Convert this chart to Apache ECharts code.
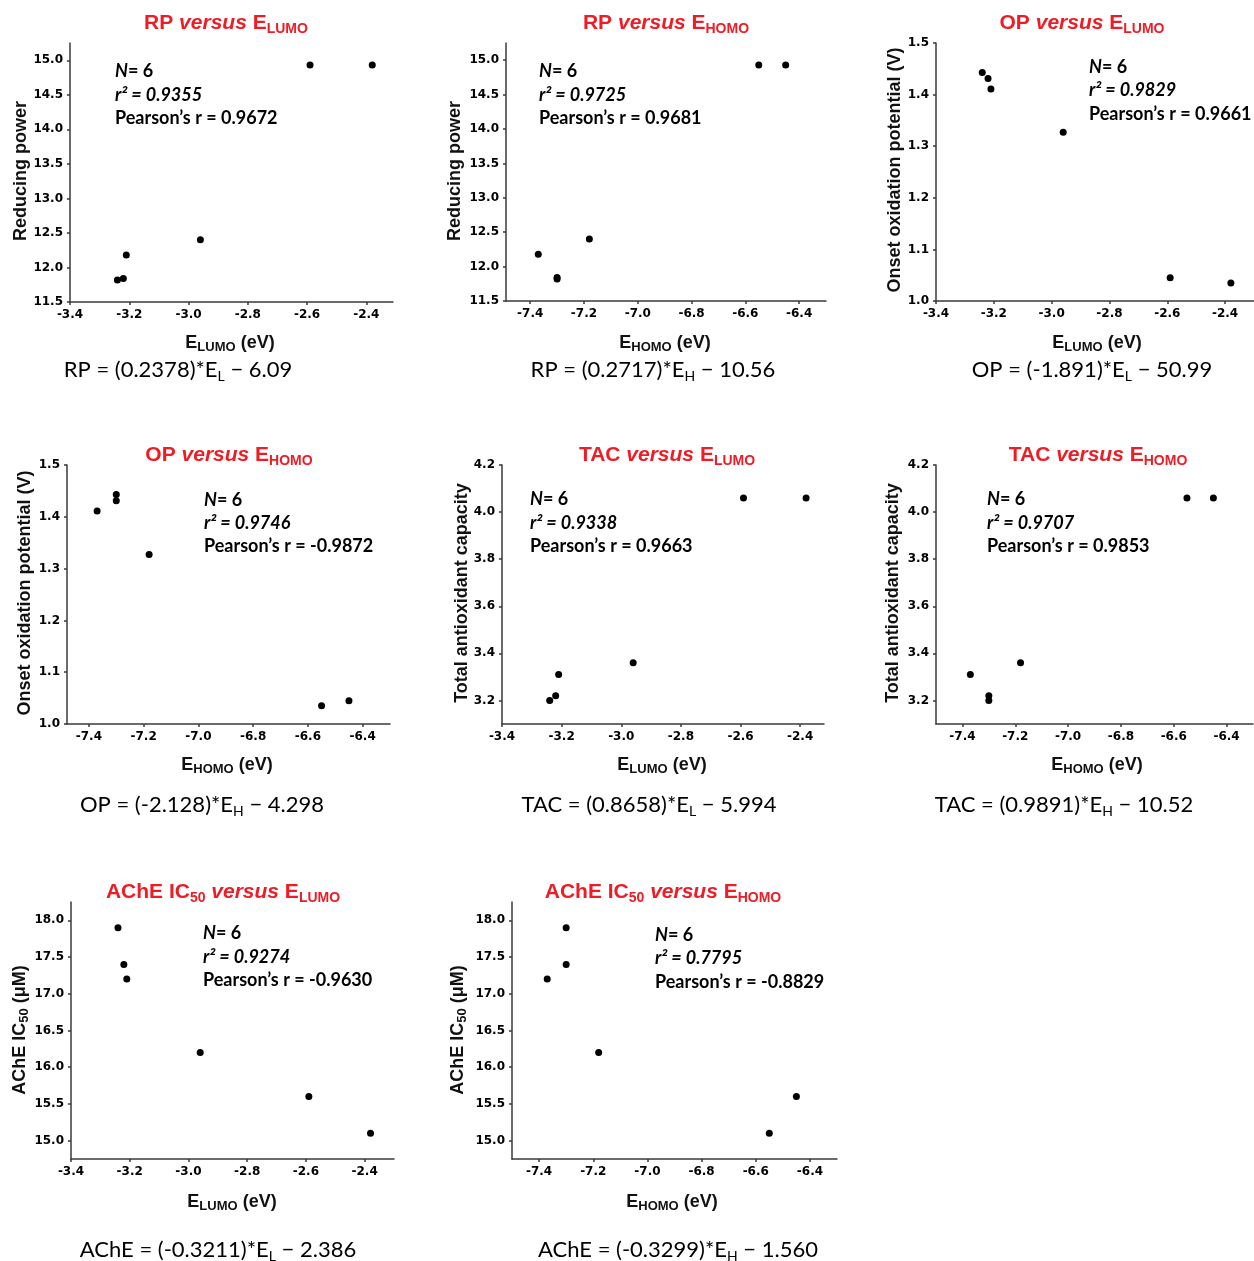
<!DOCTYPE html>
<html>
<head>
<meta charset="utf-8">
<script src="https://cdn.jsdelivr.net/npm/echarts@6/dist/echarts.min.js"></script>
<style>
  html, body { margin: 0; padding: 0; background: #fff; }
  #chart { width: 1254px; height: 1261px; }
</style>
</head>
<body>
<div id="chart"></div>
<script>
// orbital energies of the six compounds (eV)
const eLumo = [-3.24, -3.22, -3.21, -2.96, -2.59, -2.38];
const eHomo = [-7.30, -7.30, -7.37, -7.18, -6.45, -6.55];
// measured activities of the same compounds
const rp = [11.82, 11.84, 12.18, 12.40, 14.93, 14.93];
const op = [1.443, 1.431, 1.411, 1.327, 1.045, 1.035];
const tac = [3.20, 3.22, 3.31, 3.36, 4.06, 4.06];
const ache = [17.9, 17.4, 17.2, 16.2, 15.6, 15.1];

// tick labels
const lumoTicks = [-3.4, -3.2, -3.0, -2.8, -2.6, -2.4];
const homoTicks = [-7.4, -7.2, -7.0, -6.8, -6.6, -6.4];
const rpTicks = [11.5, 12.0, 12.5, 13.0, 13.5, 14.0, 14.5, 15.0];
const opTicks = [1.0, 1.1, 1.2, 1.3, 1.4, 1.5];
const tacTicks = [3.2, 3.4, 3.6, 3.8, 4.0, 4.2];
const acheTicks = [15.0, 15.5, 16.0, 16.5, 17.0, 17.5, 18.0];

// statistics written in each panel
const r2Values = ['0.9355', '0.9725', '0.9829', '0.9746', '0.9338', '0.9707', '0.9274', '0.7795'];
const pearsonValues = ['0.9672', '0.9681', '0.9661', '-0.9872', '0.9663', '0.9853', '-0.9630', '-0.8829'];
// regression equations: [left part, subscript, right part]
const equations = [
  ['RP = (0.2378)*E', 'L', ' \u2212 6.09'],
  ['RP = (0.2717)*E', 'H', ' \u2212 10.56'],
  ['OP = (-1.891)*E', 'L', ' \u2212 50.99'],
  ['OP = (-2.128)*E', 'H', ' \u2212 4.298'],
  ['TAC = (0.8658)*E', 'L', ' \u2212 5.994'],
  ['TAC = (0.9891)*E', 'H', ' \u2212 10.52'],
  ['AChE = (-0.3211)*E', 'L', ' \u2212 2.386'],
  ['AChE = (-0.3299)*E', 'H', ' \u2212 1.560']
];

const panels = [
  { x: eLumo, y: rp, xt: lumoTicks, yt: rpTicks, orb: 'LUMO', resp: 'RP', yName: 'rp' },
  { x: eHomo, y: rp, xt: homoTicks, yt: rpTicks, orb: 'HOMO', resp: 'RP', yName: 'rp' },
  { x: eLumo, y: op, xt: lumoTicks, yt: opTicks, orb: 'LUMO', resp: 'OP', yName: 'op' },
  { x: eHomo, y: op, xt: homoTicks, yt: opTicks, orb: 'HOMO', resp: 'OP', yName: 'op' },
  { x: eLumo, y: tac, xt: lumoTicks, yt: tacTicks, orb: 'LUMO', resp: 'TAC', yName: 'tac' },
  { x: eHomo, y: tac, xt: homoTicks, yt: tacTicks, orb: 'HOMO', resp: 'TAC', yName: 'tac' },
  { x: eLumo, y: ache, xt: lumoTicks, yt: acheTicks, orb: 'LUMO', resp: 'AChE', yName: 'ache' },
  { x: eHomo, y: ache, xt: homoTicks, yt: acheTicks, orb: 'HOMO', resp: 'AChE', yName: 'ache' }
];

// placement of each panel, in page pixels
const layout = [
  { grid: [70, 43, 393, 302], xr: [-3.4, -2.31], yr: [11.5, 15.25], title: [226, 23], yN: [21, 171], xN: [230, 343], st: [115, 71, 95, 118], eq: [178, 370] },
  { grid: [506, 43, 826, 301], xr: [-7.49, -6.30], yr: [11.5, 15.25], title: [666, 23], yN: [455, 171], xN: [665, 343], st: [539, 71, 95, 118], eq: [653, 370] },
  { grid: [936, 43, 1264, 301], xr: [-3.4, -2.30], yr: [1.0, 1.5], title: [1082, 23], yN: [895, 170], xN: [1097, 343], st: [1089, 67, 90, 114], eq: [1092, 370] },
  { grid: [67, 465, 390, 724], xr: [-7.48, -6.30], yr: [1.0, 1.5], title: [229, 455], yN: [25, 593], xN: [227, 765], st: [204, 500, 523, 546], eq: [202, 805] },
  { grid: [502, 465, 824, 724], xr: [-3.4, -2.32], yr: [3.1, 4.2], title: [667, 455], yN: [462, 593], xN: [662, 765], st: [530, 499, 523, 546], eq: [649, 805] },
  { grid: [936, 465, 1253, 724], xr: [-7.5, -6.3], yr: [3.1, 4.2], title: [1098, 455], yN: [893, 593], xN: [1097, 765], st: [987, 499, 523, 546], eq: [1064, 805] },
  { grid: [71, 902, 394, 1159], xr: [-3.4, -2.30], yr: [14.75, 18.25], title: [223, 892], yN: [20, 1030], xN: [232, 1202], st: [203, 933, 957, 980], eq: [218, 1250] },
  { grid: [512, 902, 837, 1159], xr: [-7.5, -6.3], yr: [14.75, 18.25], title: [663, 892], yN: [458, 1030], xN: [672, 1202], st: [655, 935, 958, 982], eq: [678, 1250] }
];

const AX = '#3a3a3a';
const SANS = 'Liberation Sans';

const richTitle = {
  t: { fontFamily: SANS, fontWeight: 'bold', fontSize: 21, fill: '#ee1c25', lineHeight: 26 },
  ti: { fontFamily: SANS, fontWeight: 'bold', fontStyle: 'italic', fontSize: 21, fill: '#ee1c25', lineHeight: 26 },
  ts: { fontFamily: SANS, fontWeight: 'bold', fontSize: 14, fill: '#ee1c25', lineHeight: 15, verticalAlign: 'bottom' }
};
const richName = {
  n: { fontFamily: SANS, fontWeight: 'bold', fontSize: 18, fill: '#111', lineHeight: 22 },
  ns: { fontFamily: SANS, fontWeight: 'bold', fontSize: 13, fill: '#111', lineHeight: 12, verticalAlign: 'bottom' }
};
const richStat = {
  s: { fontFamily: 'Lato', fontWeight: 'bold', fontSize: 18, fill: '#000', lineHeight: 22 },
  si: { fontFamily: 'Lato', fontWeight: 'bold', fontStyle: 'italic', fontSize: 18, fill: '#000', lineHeight: 22 }
};
const richEq = {
  e: { fontFamily: 'Lato', fontSize: 22, fill: '#000', lineHeight: 26 },
  es: { fontFamily: 'Lato', fontSize: 14, fill: '#000', lineHeight: 14, verticalAlign: 'bottom' }
};

const yNames = {
  rp: '{n|Reducing power}',
  op: '{n|Onset oxidation potential (V)}',
  tac: '{n|Total antioxidant capacity}',
  ache: '{n|AChE IC}{ns|50}{n| (\u03bcM)}'
};

function valueAxis(i, range, ticks) {
  return {
    type: 'value', gridIndex: i, min: range[0], max: range[1],
    splitLine: { show: false },
    axisLine: { show: true, onZero: false, lineStyle: { color: AX, width: 1.5 } },
    axisTick: { show: true, customValues: ticks, length: 3, lineStyle: { color: AX, width: 1.5 } },
    axisLabel: {
      customValues: ticks, formatter: v => v.toFixed(1), margin: 7,
      fontFamily: 'DejaVu Sans', fontWeight: 'bold', fontSize: 12, color: '#000'
    }
  };
}

function label(x, y, text, rich, extra) {
  return Object.assign({
    type: 'text', x: x, y: y, silent: true,
    style: { text: text, rich: rich, align: 'center', verticalAlign: 'middle', textAlign: 'center', textVerticalAlign: 'middle' }
  }, extra || {});
}

const grids = [], xAxes = [], yAxes = [], series = [], graphics = [];

panels.forEach((p, i) => {
  const L = layout[i];
  grids.push({ left: L.grid[0], top: L.grid[1], width: L.grid[2] - L.grid[0], height: L.grid[3] - L.grid[1] });
  xAxes.push(valueAxis(i, L.xr, p.xt));
  yAxes.push(valueAxis(i, L.yr, p.yt));
  series.push({
    type: 'scatter', xAxisIndex: i, yAxisIndex: i, symbolSize: 7,
    itemStyle: { color: '#000', opacity: 1 },
    data: p.x.map((v, k) => [v, p.y[k]])
  });

  const resp = p.resp === 'AChE' ? '{t|AChE IC}{ts|50}{t| }' : '{t|' + p.resp + ' }';
  graphics.push(label(L.title[0], L.title[1], resp + '{ti|versus}{t| E}{ts|' + p.orb + '}', richTitle));
  graphics.push(label(L.yN[0], L.yN[1], yNames[p.yName], richName, { rotation: Math.PI / 2 }));
  graphics.push(label(L.xN[0], L.xN[1], '{n|E}{ns|' + p.orb + '}{n| (eV)}', richName));

  const st = [
    '{si|N}{s|= 6}',
    '{si|r\u00b2 = ' + r2Values[i] + '}',
    '{s|Pearson\u2019s r = ' + pearsonValues[i] + '}'
  ];
  st.forEach((t, k) => {
    const g = label(L.st[0], L.st[k + 1], t, richStat);
    g.style.align = 'left'; g.style.textAlign = 'left';
    graphics.push(g);
  });

  const e = equations[i];
  graphics.push(label(L.eq[0], L.eq[1], '{e|' + e[0] + '}{es|' + e[1] + '}{e|' + e[2] + '}', richEq));
});

const chart = echarts.init(document.getElementById('chart'));
chart.setOption({
  animation: false,
  backgroundColor: '#fff',
  grid: grids,
  xAxis: xAxes,
  yAxis: yAxes,
  series: series,
  graphic: graphics
});
</script>
</body>
</html>
